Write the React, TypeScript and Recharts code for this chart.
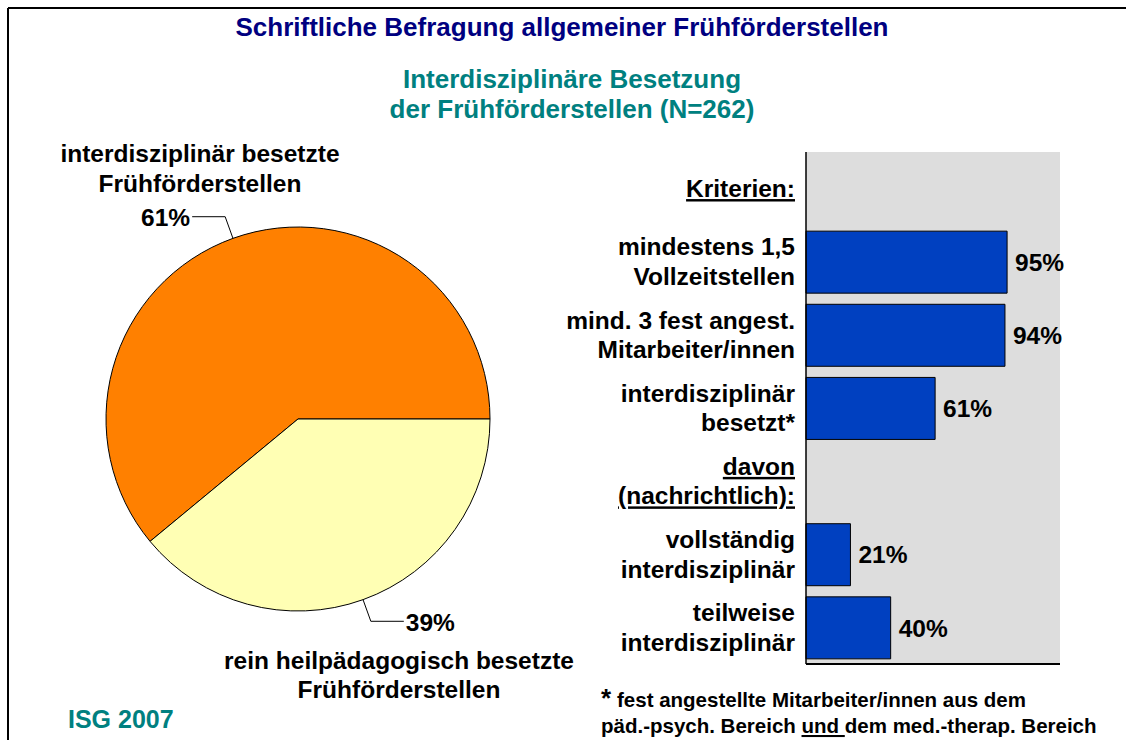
import React from "react";
import {
  Bar,
  BarChart,
  CartesianGrid,
  Cell,
  LabelList,
  Pie,
  PieChart,
  XAxis,
  YAxis
} from "recharts";

const FONT = '"Liberation Sans", Arial, Helvetica, sans-serif';

// pie: share of early-intervention centres by staffing
const pieNames = [
  "interdisziplinär besetzte Frühförderstellen",
  "rein heilpädagogisch besetzte Frühförderstellen"
];
const pieValues = [61, 39];
const pieColors = ["#FF8000", "#FFFFB4"];

// bars: criteria (one entry per text line), heading rows have no bar
const criteria = [
  ["Kriterien:"],
  ["mindestens 1,5", "Vollzeitstellen"],
  ["mind. 3 fest angest.", "Mitarbeiter/innen"],
  ["interdisziplinär", "besetzt*"],
  ["davon", "(nachrichtlich):"],
  ["vollständig", "interdisziplinär"],
  ["teilweise", "interdisziplinär"]
];
const headingRows = [true, false, false, false, true, false, false];
const shares: (number | null)[] = [null, 95, 94, 61, null, 21, 40];

const pieData = pieNames.map((name, i) => ({ name, value: pieValues[i] }));
const barData = criteria.map((lines, i) => ({
  name: lines.join("\n"),
  value: shares[i]
}));
const barNames = barData.map((d) => d.name);

const RAD = Math.PI / 180;

function PieLabel(props: any) {
  const { cx, cy, midAngle, outerRadius, value } = props;
  const cos = Math.cos(-midAngle * RAD);
  const sin = Math.sin(-midAngle * RAD);
  const sx = cx + outerRadius * cos;
  const sy = cy + outerRadius * sin;
  const ex = cx + (outerRadius + 23) * cos;
  const ey = cy + (outerRadius + 23) * sin;
  const dir = cos >= 0 ? 1 : -1;
  const tx = ex + dir * 33;
  return (
    <g>
      <path d={`M${sx},${sy}L${ex},${ey}L${tx},${ey}`} stroke="#000" strokeWidth={1} fill="none" />
      <text
        x={tx + dir * 2}
        y={ey + 9.5}
        textAnchor={dir > 0 ? "start" : "end"}
        fontFamily={FONT}
        fontWeight="bold"
        fontSize={24.5}
        fill="#000"
      >
        {value}%
      </text>
    </g>
  );
}

function CriteriaTick(props: any) {
  const { x, y, payload } = props;
  const lines = String(payload.value).split("\n");
  const idx = barNames.indexOf(String(payload.value));
  const underline = headingRows[idx];
  const first = -(lines.length - 1) * 14.75 + 8.5;
  return (
    <text x={x} y={y} textAnchor="end" fontFamily={FONT} fontWeight="bold" fontSize={24.5} fill="#000">
      {lines.map((line, i) => (
        <tspan
          key={i}
          x={x}
          y={y + first + i * 29.5}
          style={underline ? { textDecoration: "underline" } : undefined}
        >
          {line}
        </tspan>
      ))}
    </text>
  );
}

const txt = { fontFamily: FONT, fontWeight: "bold" as const };

export default function App() {
  return (
    <div
      style={{
        position: "absolute",
        left: 0,
        top: 0,
        width: 1126,
        height: 740,
        overflow: "hidden",
        background: "#fff"
      }}
    >
      <svg width={1126} height={740} style={{ position: "absolute", left: 0, top: 0 }}>
        <line x1={8} y1={8} x2={1126} y2={8} stroke="#000" strokeWidth={2} />
        <line x1={8} y1={8} x2={8} y2={740} stroke="#000" strokeWidth={2} />
        <text x={562} y={36} textAnchor="middle" fontSize={26} fill="#000080" {...txt}>
          Schriftliche Befragung allgemeiner Frühförderstellen
        </text>
        <text x={572} y={88} textAnchor="middle" fontSize={26} fill="#008080" {...txt}>
          Interdisziplinäre Besetzung
        </text>
        <text x={572} y={118} textAnchor="middle" fontSize={26} fill="#008080" {...txt}>
          der Frühförderstellen (N=262)
        </text>
        <text x={200} y={162} textAnchor="middle" fontSize={24.5} fill="#000" {...txt}>
          interdisziplinär besetzte
        </text>
        <text x={200} y={192} textAnchor="middle" fontSize={24.5} fill="#000" {...txt}>
          Frühförderstellen
        </text>
        <text x={399} y={669} textAnchor="middle" fontSize={24.5} fill="#000" {...txt}>
          rein heilpädagogisch besetzte
        </text>
        <text x={399} y={698} textAnchor="middle" fontSize={24.5} fill="#000" {...txt}>
          Frühförderstellen
        </text>
        <text x={68} y={728} fontSize={25} fill="#008080" {...txt}>
          ISG 2007
        </text>
        <text x={601} y={707} fontSize={26} fill="#000" {...txt}>
          *
        </text>
        <text x={617} y={707} fontSize={20.5} fill="#000" {...txt}>
          fest angestellte Mitarbeiter/innen aus dem
        </text>
        <text x={601} y={733} fontSize={20.5} fill="#000" {...txt}>
          päd.-psych. Bereich <tspan style={{ textDecoration: "underline" }}>und </tspan>dem med.-therap. Bereich
        </text>
      </svg>

      <div style={{ position: "absolute", left: 0, top: 120 }}>
        <PieChart width={600} height={600} margin={{ top: 0, right: 0, bottom: 0, left: 0 }}>
          <Pie
            data={pieData}
            dataKey="value"
            nameKey="name"
            cx={298}
            cy={299}
            outerRadius={192}
            startAngle={0}
            endAngle={360}
            stroke="#000"
            strokeWidth={1}
            label={PieLabel}
            labelLine={false}
            isAnimationActive={false}
          >
            {pieData.map((d, i) => (
              <Cell key={d.name} fill={pieColors[i]} />
            ))}
          </Pie>
        </PieChart>
      </div>

      <div style={{ position: "absolute", left: 560, top: 140 }}>
        <BarChart
          width={560}
          height={540}
          data={barData}
          layout="vertical"
          margin={{ top: 12, right: 60, bottom: 15, left: 0 }}
          barSize={62}
        >
          <CartesianGrid horizontal={false} vertical={false} fill="#DDDDDD" stroke="none" />
          <XAxis
            type="number"
            domain={[0, 120]}
            tick={false}
            tickLine={false}
            height={1}
            axisLine={{ stroke: "#000", strokeWidth: 2 }}
          />
          <YAxis
            type="category"
            dataKey="name"
            width={246}
            interval={0}
            tickLine={false}
            tickSize={0}
            tickMargin={11}
            axisLine={{ stroke: "#000", strokeWidth: 1.5 }}
            tick={<CriteriaTick />}
          />
          <Bar dataKey="value" fill="#0040C0" stroke="#000" strokeWidth={1} isAnimationActive={false}>
            <LabelList
              dataKey="value"
              position="right"
              offset={8}
              formatter={(v: any) => (v == null ? "" : `${v}%`)}
              fill="#000"
              fontSize={24.5}
              fontWeight="bold"
              fontFamily={FONT}
            />
          </Bar>
        </BarChart>
      </div>
    </div>
  );
}
